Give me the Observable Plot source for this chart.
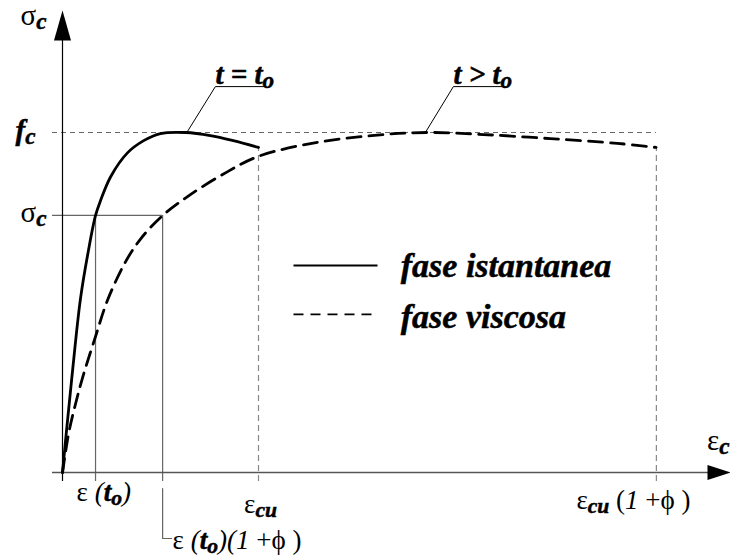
<!DOCTYPE html>
<html>
<head>
<meta charset="utf-8">
<script src="https://cdn.jsdelivr.net/npm/d3@7"></script>
<script src="https://cdn.jsdelivr.net/npm/@observablehq/plot@0.6"></script>
<style>
  html, body { margin: 0; padding: 0; background: #fff; }
  #chart svg { display: block; }
</style>
</head>
<body>
<div id="chart"></div>
<script>
// Stress–strain law of concrete: instantaneous vs. creep (viscous) response.
// Strain in ‰, stress normalised to f_c.

const EPS_CU = 3.5;      // ultimate strain ε_cu
const PHI = 2.03;        // creep coefficient φ
const EPS_T0 = 0.59;     // strain ε(t_o) at service stress
const SIGMA_C = 0.756;   // service stress σ_c / f_c
const FC = 1;            // peak stress f_c

// instantaneous curve (t = t_o): [strain, stress]
const istantanea = [
  [0, 0], [0.07, 0.12], [0.18, 0.30], [0.32, 0.51], [0.46, 0.65], [0.59, 0.756],
  [0.68, 0.80], [0.86, 0.87], [1.16, 0.94], [1.45, 0.976], [1.75, 0.997],
  [2.2, 1.0], [2.64, 0.991], [3.05, 0.976], [3.5, 0.956]
];

// long-term curve (t > t_o): [strain, stress]
const viscosa = [
  [0, 0], [0.11, 0.115], [0.23, 0.20], [0.36, 0.28], [0.59, 0.40], [0.80, 0.505],
  [1.12, 0.618], [1.40, 0.688], [1.79, 0.756], [2.29, 0.818], [2.95, 0.885],
  [3.5, 0.93], [4.55, 0.971], [5.73, 0.994], [6.55, 1.0], [7.52, 0.994],
  [8.71, 0.982], [9.91, 0.968], [10.6, 0.956]
];

// x tick values and labels (markup: *bold italic*, [subscript], ~italic~)
const xTickValues = [EPS_T0, EPS_T0 * (1 + PHI), EPS_CU, EPS_CU * (1 + PHI)];
const xTickLabels = ["ε ~(~*t*[o]~)~", "ε ~(~*t*[o]~)(~~1~ +ϕ )", "ε[cu]", "ε[cu] (~1~ +ϕ )"];
const yTickValues = [FC, SIGMA_C];
const yTickLabels = ["*f*[c]", "σ[c]"];
const axisLabels = { x: "ε[c]", y: "σ[c]" };

// curve callouts
const callouts = [
  { text: "*t = t*[o]", at: [2.22, 1.0], elbow: [2.73, 1.135], end: [3.63, 1.135] },
  { text: "*t > t*[o]", at: [6.48, 1.0], elbow: [6.98, 1.135], end: [7.91, 1.135] }
];

// legend entries
const legendLabels = ["fase istantanea", "fase viscosa"];

// scales
const X_DOMAIN = [0, EPS_CU], X_RANGE = [62, 258];
const Y_DOMAIN = [0, FC], Y_RANGE = [472, 132];
const kx = (X_RANGE[1] - X_RANGE[0]) / (X_DOMAIN[1] - X_DOMAIN[0]);   // px per unit strain
const ky = (Y_RANGE[0] - Y_RANGE[1]) / (Y_DOMAIN[1] - Y_DOMAIN[0]);   // px per unit stress
const px = v => v / kx, py = v => v / ky;

const X_TIP = px(730 - X_RANGE[0]);
const Y_TIP = py(Y_RANGE[0] - 10);

// arrow heads drawn with the tip at the origin, pointing up
const arrowY = { draw(ctx) { ctx.moveTo(0, 0); ctx.lineTo(8.5, 30); ctx.lineTo(-8.5, 30); ctx.closePath(); } };
const arrowX = { draw(ctx) { ctx.moveTo(0, 0); ctx.lineTo(7.5, 23); ctx.lineTo(-7.5, 23); ctx.closePath(); } };

const legendX = [4.125, 5.625], legendTextX = 6.04;
const legendY = [0.609, 0.465], legendTextY = [0.574, 0.426];

const tickLeader = xTickValues[1];
const FONT = "'Liberation Serif', 'Times New Roman', serif";

const plot = Plot.plot({
  width: 730,
  height: 560,
  margin: 0,
  style: { background: "#fff", color: "#000" },
  x: { domain: X_DOMAIN, range: X_RANGE, axis: null },
  y: { domain: Y_DOMAIN, range: Y_RANGE, axis: null },
  marks: [
    // guide lines
    Plot.ruleY([FC], { x1: -px(10), x2: EPS_CU * (1 + PHI), stroke: "#666", strokeWidth: 1, strokeDasharray: "5,4" }),
    Plot.ruleY([SIGMA_C], { x1: -px(10), x2: xTickValues[1], stroke: "#666", strokeWidth: 1.2 }),
    Plot.ruleX(xTickValues.slice(0, 2), { y1: -py(9), y2: SIGMA_C, stroke: "#666", strokeWidth: 1.2 }),
    Plot.ruleX(xTickValues.slice(2), { y1: -py(9), y2: istantanea[istantanea.length - 1][1], stroke: "#888", strokeWidth: 1.2, strokeDasharray: "6,4" }),
    Plot.line([[tickLeader, -py(16)], [tickLeader, -py(66)], [tickLeader + px(9), -py(66)]], { stroke: "#666", strokeWidth: 1.2 }),

    // axes
    Plot.ruleY([0], { x1: -px(10), x2: X_TIP - px(10), stroke: "#555", strokeWidth: 1.3 }),
    Plot.ruleX([0], { y1: -py(9), y2: Y_TIP - py(10), stroke: "#000", strokeWidth: 1.2 }),
    Plot.dot([[0, Y_TIP]], { symbol: arrowY, fill: "#000", stroke: "none" }),
    Plot.dot([[X_TIP, 0]], { symbol: arrowX, rotate: 90, fill: "#000", stroke: "none" }),

    // curves
    Plot.line(viscosa, { curve: "catmull-rom", stroke: "#000", strokeWidth: 2.8, strokeDasharray: "14,8" }),
    Plot.line(istantanea, { curve: "catmull-rom", stroke: "#000", strokeWidth: 2.8 }),

    // callouts
    Plot.line(callouts.flatMap((c, i) => [c.at, c.elbow, c.end].map(p => ({ x: p[0], y: p[1], i }))),
      { x: "x", y: "y", z: "i", stroke: "#000", strokeWidth: 1 }),
    Plot.text(callouts, { x: d => d.elbow[0], y: d => d.elbow[1], text: "text", textAnchor: "start", lineAnchor: "bottom", dy: -3, fontSize: 29 }),

    // axis labels
    Plot.text([axisLabels.y], { x: 0, y: Y_TIP, text: d => d, textAnchor: "end", lineAnchor: "bottom", dx: -16, dy: 14, fontSize: 29 }),
    Plot.text([axisLabels.x], { x: X_TIP, y: 0, text: d => d, textAnchor: "end", lineAnchor: "bottom", dx: -1, dy: -23, fontSize: 29 }),

    // y tick labels
    Plot.text([yTickValues[0]], { x: 0, y: d => d, text: [yTickLabels[0]], textAnchor: "end", lineAnchor: "bottom", dx: -27, dy: 7, fontSize: 29 }),
    Plot.text([yTickValues[1]], { x: 0, y: d => d, text: [yTickLabels[1]], textAnchor: "end", lineAnchor: "bottom", dx: -16, dy: 7, fontSize: 29 }),

    // x tick labels
    Plot.text([xTickValues[0]], { x: d => d, y: 0, text: [xTickLabels[0]], textAnchor: "start", lineAnchor: "bottom", dx: -19, dy: 28, fontSize: 27 }),
    Plot.text([xTickValues[1]], { x: d => d, y: 0, text: [xTickLabels[1]], textAnchor: "start", lineAnchor: "bottom", dx: 10, dy: 76, fontSize: 27 }),
    Plot.text([xTickValues[2]], { x: d => d, y: 0, text: [xTickLabels[2]], textAnchor: "middle", lineAnchor: "bottom", dx: 2, dy: 40, fontSize: 27 }),
    Plot.text([xTickValues[3]], { x: d => d, y: 0, text: [xTickLabels[3]], textAnchor: "start", lineAnchor: "bottom", dx: -80, dy: 36, fontSize: 27 }),

    // legend
    Plot.link([legendLabels[0]], { x1: legendX[0], x2: legendX[1], y1: legendY[0], y2: legendY[0], stroke: "#000", strokeWidth: 2 }),
    Plot.link([legendLabels[1]], { x1: legendX[0], x2: legendX[1], y1: legendY[1], y2: legendY[1], stroke: "#000", strokeWidth: 1.6, strokeDasharray: "10,7" }),
    Plot.text(legendLabels, { x: legendTextX, y: (d, i) => legendTextY[i], text: d => `*${d}*`, textAnchor: "start", lineAnchor: "bottom", fontSize: 34 })
  ]
});

// turn the small label markup into tspans, all set in the serif face
function richText(svg) {
  d3.select(svg).selectAll("text").each(function () {
    const el = d3.select(this);
    el.style("font-family", FONT);
    const s = this.textContent;
    if (!/[*\[~]/.test(s)) return;
    el.text(null);
    const re = /\*([^*]*)\*|\[([^\]]*)\]|~([^~]*)~|([^*\[~]+)/g;
    let m, shifted = false;
    const SHIFT = 4;
    const bold = t => t.style("font-style", "italic").style("font-weight", "bold")
      .style("stroke", "#000").style("stroke-width", "0.5px");
    while ((m = re.exec(s))) {
      const t = el.append("tspan").style("font-family", FONT);
      if (m[2] != null) {
        bold(t).style("font-size", "0.8em").text(m[2]);
        if (!shifted) { t.attr("dy", SHIFT); shifted = true; }
        continue;
      }
      if (shifted) { t.attr("dy", -SHIFT); shifted = false; }
      if (m[1] != null) bold(t).text(m[1]);
      else if (m[3] != null) t.style("font-style", "italic").text(m[3]);
      else t.text(m[4]);
    }
  });
}
richText(plot);
plot.style.fontFamily = FONT;
document.getElementById("chart").appendChild(plot);
</script>
</body>
</html>
